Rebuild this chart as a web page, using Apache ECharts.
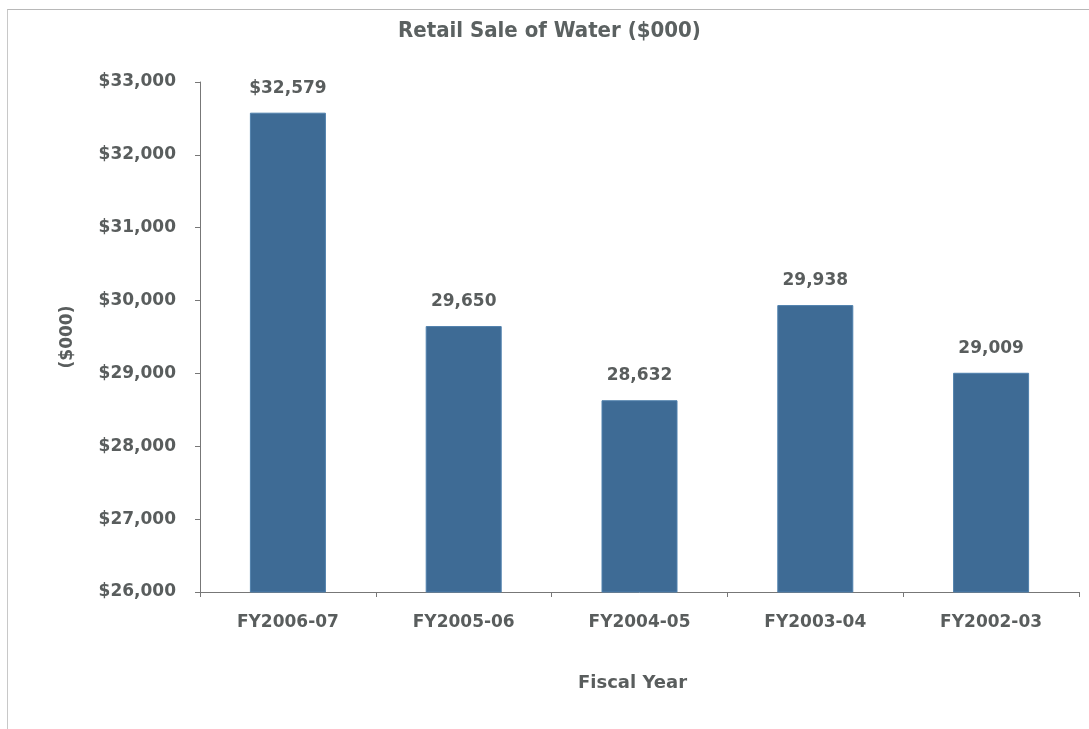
<!DOCTYPE html>
<html><head><meta charset="utf-8">
<script src="https://cdn.jsdelivr.net/npm/echarts@6/dist/echarts.min.js"></script>
<style>html,body{margin:0;padding:0;background:#fff}#c{width:1089px;height:729px}
#frame{position:absolute;left:7px;top:9px;width:1100px;height:800px;border-left:1px solid #c8c8c8;border-top:1px solid #b8b8b8;pointer-events:none}</style>
</head><body><div id="c"></div><div id="frame"></div>
<script>
const categories = ['FY2006-07','FY2005-06','FY2004-05','FY2003-04','FY2002-03'];
const values = [32579, 29650, 28632, 29938, 29009];
const yTicks = [26000, 27000, 28000, 29000, 30000, 31000, 32000, 33000];
const txt = '#595d5d';
const F = 'DejaVu Sans';
const chart = echarts.init(document.getElementById('c'));
const fmt = n => n.toString().replace(/\B(?=(\d{3})+(?!\d))/g, ',');
chart.setOption({
  animation: false,
  title: { text: 'Retail Sale of Water ($000)', left: 398, top: 20, padding: 0,
    textStyle: { fontFamily: 'DejaVu Sans Condensed', fontWeight: 'bold', fontSize: 22, color: '#5b6161' } },
  grid: { left: 200, right: 10, top: 82, bottom: 137, containLabel: false },
  xAxis: { type: 'category', data: categories, name: 'Fiscal Year', nameLocation: 'middle', nameGap: 82,
    nameTextStyle: { fontFamily: F, fontWeight: 'bold', fontSize: 18, color: txt, padding: [0, 14, 0, 0] },
    axisLine: { lineStyle: { color: '#777', width: 1 } },
    axisTick: { show: true, length: 5, alignWithLabel: false, lineStyle: { color: '#777' } },
    axisLabel: { margin: 22, fontFamily: F, fontWeight: 'bold', fontSize: 17, color: txt } },
  yAxis: { type: 'value', min: yTicks[0], max: yTicks[yTicks.length-1], interval: 1000,
    name: '($000)', nameLocation: 'middle', nameGap: 124, nameRotate: 90,
    nameTextStyle: { fontFamily: F, fontWeight: 'bold', fontSize: 17, color: txt },
    axisLine: { show: true, lineStyle: { color: '#777', width: 1 } },
    axisTick: { show: true, length: 5, lineStyle: { color: '#777' } },
    splitLine: { show: false },
    axisLabel: { margin: 24, fontFamily: F, fontWeight: 'bold', fontSize: 17, color: txt,
      formatter: v => '$' + fmt(v) } },
  series: [{ type: 'bar', data: values, barWidth: 76,
    itemStyle: { color: '#3e6b95', borderColor: '#4f80ad', borderWidth: 1 },
    label: { show: true, position: 'top', distance: 16, fontFamily: F, fontWeight: 'bold', fontSize: 17, color: txt,
      formatter: p => (p.dataIndex === 0 ? '$' : '') + fmt(p.value) } }]
});
</script></body></html>
